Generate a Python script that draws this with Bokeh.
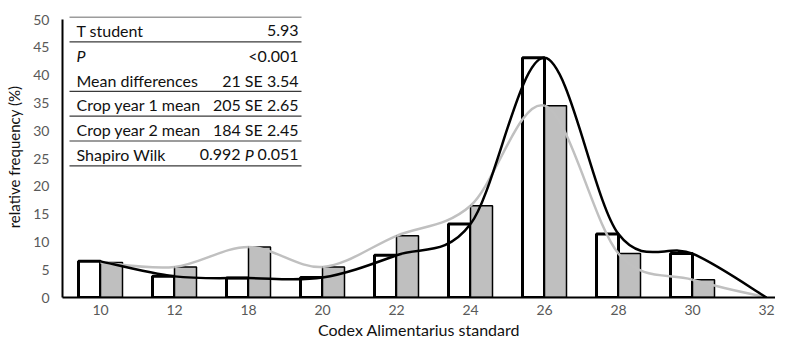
from bokeh.plotting import figure
from bokeh.models import ColumnDataSource, FixedTicker, Range1d
from bokeh.core.properties import value
from bokeh.embed import file_html
from bokeh.resources import INLINE

# ---- data ----
categories = ["10", "12", "18", "20", "22", "24", "26", "28", "30", "32"]
year1 = [6.5, 3.8, 3.5, 3.6, 7.6, 13.2, 43.1, 11.4, 7.9, 0.0]
year2 = [6.3, 5.5, 9.1, 5.5, 11.1, 16.5, 34.5, 7.9, 3.2, 0.0]
y_ticks = [0, 5, 10, 15, 20, 25, 30, 35, 40, 45, 50]

table_labels = ["T student", "P", "Mean differences", "Crop year 1 mean",
                "Crop year 2 mean", "Shapiro Wilk"]
table_values = ["5.93", "<0.001", "21 SE 3.54", "205 SE 2.65", "184 SE 2.45", ""]
shapiro_parts = ["0.992", "P", "0.051"]
x_title = "Codex Alimentarius standard"
y_title = "relative frequency (%)"

FONT = "Lato"

# ---- layout (figure pixel coordinates) ----
W, H = 775, 342
FRAME_L, FRAME_T = 62, 16
Y0_PX, Y50_PX = 297, 19
BL, BT, BB, BR = FRAME_L, FRAME_T, H - Y0_PX, 0
frame_w = W - BL - BR
px_per_cat = 74.0
CAT0_PX = 100
x_start = -(CAT0_PX - FRAME_L) / px_per_cat
x_end = x_start + frame_w / px_per_cat
ppy = (Y0_PX - Y50_PX) / 50.0
y_end = (Y0_PX - FRAME_T) / ppy

p = figure(width=W, height=H, output_backend="svg", toolbar_location=None,
           x_range=Range1d(x_start, x_end), y_range=Range1d(0, y_end),
           min_border_left=BL, min_border_right=BR, min_border_top=BT,
           min_border_bottom=BB)
p.outline_line_color = None
p.grid.visible = False
p.background_fill_color = "white"
p.border_fill_color = "white"

xs = list(range(len(categories)))
bw = 22 / px_per_cat

src1 = ColumnDataSource(dict(x=[x - bw / 2 for x, v in zip(xs, year1) if v > 0],
                             top=[v for v in year1 if v > 0]))
src2 = ColumnDataSource(dict(x=[x + bw / 2 for x, v in zip(xs, year2) if v > 0],
                             top=[v for v in year2 if v > 0]))
p.vbar(x="x", top="top", bottom=0, width=bw, source=src1,
       fill_color="white", line_color="black", line_width=3)
p.vbar(x="x", top="top", bottom=0, width=bw, source=src2,
       fill_color="#bfbfbf", line_color="black", line_width=1.5)


def smooth(ys):
    n = len(ys)
    d = dict(x0=[], y0=[], x1=[], y1=[], cx0=[], cy0=[], cx1=[], cy1=[])
    for i in range(n - 1):
        ip = max(i - 1, 0)
        inn = min(i + 2, n - 1)
        d["x0"].append(xs[i]); d["y0"].append(ys[i])
        d["x1"].append(xs[i + 1]); d["y1"].append(ys[i + 1])
        d["cx0"].append(xs[i] + (xs[i + 1] - xs[ip]) / 6)
        d["cy0"].append(ys[i] + (ys[i + 1] - ys[ip]) / 6)
        d["cx1"].append(xs[i + 1] - (xs[inn] - xs[i]) / 6)
        d["cy1"].append(ys[i + 1] - (ys[inn] - ys[i]) / 6)
    return ColumnDataSource(d)


p.bezier(x0="x0", y0="y0", x1="x1", y1="y1", cx0="cx0", cy0="cy0",
         cx1="cx1", cy1="cy1", source=smooth(year2), line_color="#c0c0c0",
         line_width=2.5)
p.bezier(x0="x0", y0="y0", x1="x1", y1="y1", cx0="cx0", cy0="cy0",
         cx1="cx1", cy1="cy1", source=smooth(year1), line_color="black",
         line_width=2.5)


# ---- table (pixel positions converted to data) ----
def dx(px):
    return (px - CAT0_PX) / px_per_cat


def dy(py):
    return (Y0_PX - py) / ppy


row_h = 24.8
top_py = 16.5
t_left, t_right = dx(69), dx(301)
txt_left, txt_right = dx(76), dx(298)
line_rows = [0, 1, 3, 4, 5, 6]
p.segment(x0=[t_left] * len(line_rows), x1=[t_right] * len(line_rows),
          y0=[dy(top_py + row_h * k) for k in line_rows],
          y1=[dy(top_py + row_h * k) for k in line_rows],
          line_color="#3a3a3a", line_width=1.2)

fs = 16
TC = "#111111"
row_y = [dy(top_py + row_h * (i + 0.5) + 1) for i in range(len(table_labels))]
normal_idx = [i for i in range(len(table_labels)) if table_labels[i] != "P"]
p.text(x=[txt_left] * len(normal_idx), y=[row_y[i] for i in normal_idx],
       text=[table_labels[i] for i in normal_idx], text_font=value(FONT),
       text_font_size=f"{fs}px", text_baseline="middle", text_align="left",
       text_color=TC)
italic_idx = [i for i in range(len(table_labels)) if table_labels[i] == "P"]
p.text(x=[txt_left] * len(italic_idx), y=[row_y[i] for i in italic_idx],
       text=[table_labels[i] for i in italic_idx], text_font=value(FONT),
       text_font_style="italic", text_font_size=f"{fs}px",
       text_baseline="middle", text_align="left", text_color=TC)
val_idx = [i for i in range(len(table_values)) if table_values[i]]
p.text(x=[txt_right] * len(val_idx), y=[row_y[i] for i in val_idx],
       text=[table_values[i] for i in val_idx], text_font=value(FONT),
       text_font_size=f"{fs}px", text_baseline="middle", text_align="right",
       text_color=TC)
# Shapiro Wilk value with italic P
w_num = (4 * 0.58 + 0.26) * fs
w_sp = 0.22 * fs
w_p = 0.6 * fs
ys5 = row_y[5]
p.text(x=[txt_right], y=[ys5], text=[shapiro_parts[2]], text_font=value(FONT),
       text_font_size=f"{fs}px", text_baseline="middle", text_align="right",
       text_color=TC)
p.text(x=[txt_right - (w_num + w_sp) / px_per_cat], y=[ys5], text=[shapiro_parts[1]],
       text_font=value(FONT), text_font_style="italic", text_font_size=f"{fs}px",
       text_baseline="middle", text_align="right", text_color=TC)
p.text(x=[txt_right - (w_num + 2 * w_sp + w_p) / px_per_cat], y=[ys5],
       text=[shapiro_parts[0]], text_font=value(FONT), text_font_size=f"{fs}px",
       text_baseline="middle", text_align="right", text_color=TC)

# ---- axes ----
xa = p.xaxis[0]
xa.ticker = FixedTicker(ticks=xs)
xa.major_label_overrides = {i: c for i, c in enumerate(categories)}
xa.axis_line_color = "black"
xa.axis_line_width = 2
xa.major_tick_line_color = None
xa.minor_tick_line_color = None
xa.major_tick_out = 0
xa.major_tick_in = 0
xa.major_label_standoff = 7
xa.major_label_text_font = FONT
xa.major_label_text_font_size = "14px"
xa.major_label_text_color = "#595959"
xa.axis_label = x_title
xa.axis_label_text_font = FONT
xa.axis_label_text_font_size = "16px"
xa.axis_label_text_font_style = "normal"
xa.axis_label_text_color = TC
xa.axis_label_standoff = 2

ya = p.yaxis[0]
ya.ticker = FixedTicker(ticks=y_ticks)
ya.bounds = (0, 50)
ya.axis_line_color = "black"
ya.axis_line_width = 2
ya.major_tick_line_color = None
ya.minor_tick_line_color = None
ya.major_tick_out = 0
ya.major_tick_in = 0
ya.major_label_standoff = 13
ya.major_label_text_font = FONT
ya.major_label_text_font_size = "14px"
ya.major_label_text_color = "#595959"
ya.axis_label = y_title
ya.axis_label_text_font = FONT
ya.axis_label_text_font_size = "15px"
ya.axis_label_text_font_style = "normal"
ya.axis_label_text_color = TC
ya.axis_label_standoff = 7

open("out.html", "w").write(file_html(p, INLINE))
